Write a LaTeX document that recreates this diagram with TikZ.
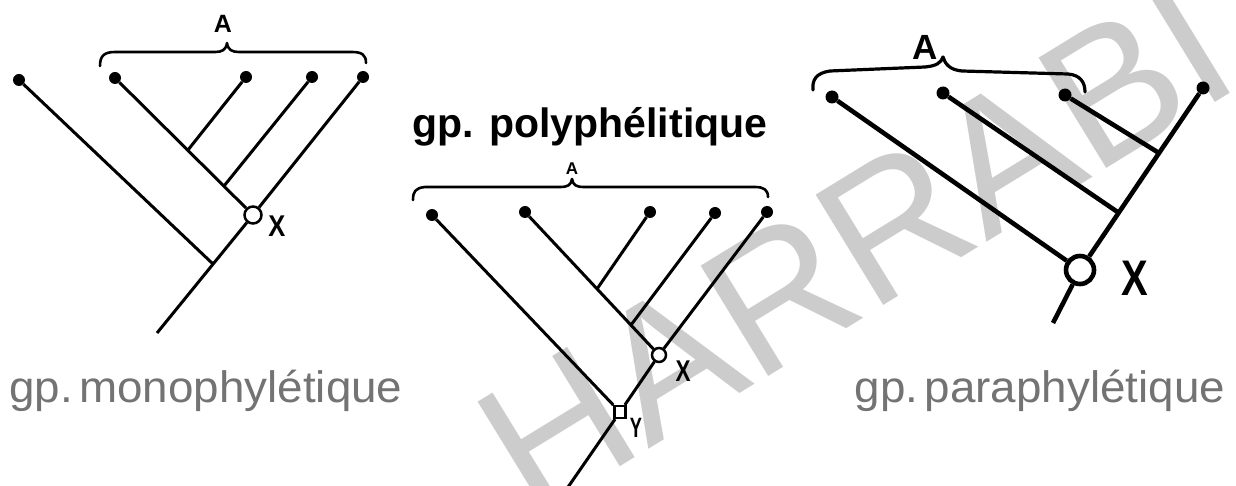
\documentclass[tikz,border=0pt]{standalone}
\usepackage{fontspec}
\newfontfamily\arialf{Liberation Sans}
\begin{document}
\begin{tikzpicture}[x=1pt,y=-1pt,
  br/.style={line width=3pt},
  brR/.style={line width=4.6pt},
  brace/.style={line width=2.6pt,line cap=round,line join=round},
  braceR/.style={line width=3.2pt,line cap=round,line join=round},
  tip/.style={circle,fill=black,inner sep=0pt,minimum size=12pt},
  tipR/.style={circle,fill=black,inner sep=0pt,minimum size=13pt},
  ring/.style={circle,draw=black,fill=white,line width=2.5pt,inner sep=0pt,minimum size=17pt},
  ringS/.style={circle,draw=black,fill=white,line width=2.5pt,inner sep=0pt,minimum size=14pt},
  ringR/.style={circle,draw=black,fill=white,line width=4.6pt,inner sep=0pt,minimum size=28pt},
  sq/.style={rectangle,draw=black,fill=white,line width=2.3pt,inner sep=0pt,minimum width=11pt,minimum height=12pt},
  lbl/.style={inner sep=0pt,font=\arialf\bfseries\fontsize{#1}{#1}\selectfont},
  caption/.style={inner sep=0pt,anchor=base,text=black!55,xscale=1.04,font=\arialf\fontsize{44}{44}\selectfont},
  title/.style={inner sep=0pt,anchor=base,font=\arialf\bfseries\fontsize{41}{41}\selectfont},
  watermark/.style={inner sep=0pt,text=black!20,rotate=31.5,font=\arialf\fontsize{188}{188}\selectfont}
]
\useasboundingbox (0,0) rectangle (1236,486);
\fill[white] (0,0) rectangle (1236,486);
\node[watermark] (wm) at (855,247) {HARRABI};

% ---------- left tree (monophyletic) ----------
\node[tip] (L1) at (19,80) {};
\node[tip] (L2) at (115,78) {};
\node[tip] (L3) at (246,77) {};
\node[tip] (L4) at (312,77) {};
\node[tip] (L5) at (363,77) {};
\coordinate (Lj3) at (188,150);
\coordinate (Lj4) at (224,186);
\coordinate (Lj1) at (213,264);
\coordinate (Lr) at (157,333);
\draw[br] (L1) -- (Lj1);
\draw[br] (L3) -- (Lj3);
\draw[br] (L4) -- (Lj4);
\node[ring] (LX) at (253,215) {};
\draw[br] (L2) -- (LX);
\draw[br] (L5) -- (LX);
\draw[br] (LX) -- (Lr);
\draw[brace] (100,66) .. controls (100,56) and (104,52) .. (115,52) -- (215,52)
  .. controls (222,52) and (226,50) .. (227,43) .. controls (228,50) and (232,52) .. (239,52)
  -- (352,52) .. controls (362,52) and (366,55) .. (366,63);
\node[lbl=25] (LA) at (223,24) {A};
\node[lbl=30,xscale=0.85] (LXl) at (277,226) {X};
\node[caption] (capL) at (206,402) {gp.\hspace{0.14em}monophylétique};

% ---------- middle tree (polyphyletic) ----------
\node[title] (titleM) at (590,138) {gp. polyphélitique};
\node[tip] (M1) at (432,215) {};
\node[tip] (M2) at (525,212) {};
\node[tip] (M3) at (650,212) {};
\node[tip] (M4) at (715,213) {};
\node[tip] (M5) at (767,212) {};
\coordinate (Mj3) at (597,289);
\coordinate (Mj4) at (631,325);
\coordinate (Mr) at (566,490);
\draw[br] (M3) -- (Mj3);
\draw[br] (M4) -- (Mj4);
\node[ringS] (MX) at (659,355) {};
\node[sq] (MY) at (620,412) {};
\draw[br] (M1) -- (MY);
\draw[br] (M2) -- (MX);
\draw[br] (M5) -- (MX);
\draw[br] (MX) -- (MY);
\draw[br] (MY) -- (Mr);
\draw[brace] (413,200) .. controls (413,192) and (415,188) .. (425,187) -- (560,187)
  .. controls (568,187) and (571,185) .. (572,179) .. controls (573,185) and (576,187) .. (584,187)
  -- (755,187) .. controls (764,187) and (768,190) .. (768,197);
\node[lbl=17] (MA) at (572,169) {A};
\node[lbl=30,xscale=0.75] (MXl) at (683,371) {X};
\node[lbl=28,xscale=0.65] (MYl) at (636,428) {Y};

% ---------- right tree (paraphyletic) ----------
\node[tipR] (R1) at (832,97) {};
\node[tipR] (R2) at (943,93) {};
\node[tipR] (R3) at (1065,95) {};
\node[tipR] (R4) at (1203,88) {};
\coordinate (Rj2) at (1119,213);
\coordinate (Rj3) at (1159,153);
\coordinate (Rr) at (1053,323);
\draw[brR] (R2) -- (Rj2);
\draw[brR] (R3) -- (Rj3);
\node[ringR] (RX) at (1080,270) {};
\draw[brR] (R1) -- (RX);
\draw[brR] (R4) -- (RX);
\draw[brR] (RX) -- (Rr);
\draw[braceR] (813,90) .. controls (812,80) and (816,73) .. (830,71) -- (925,67)
  .. controls (936,66) and (941,63) .. (943,57) .. controls (945,64) and (950,70) .. (962,71)
  -- (1068,74) .. controls (1080,75) and (1085,82) .. (1085,92);
\node[lbl=35] (RA) at (925,47) {A};
\node[lbl=50,xscale=0.8] (RXl) at (1135,278) {X};
\node[caption] (capR) at (1040,402) {gp.\hspace{0.14em}paraphylétique};
\end{tikzpicture}
\end{document}
